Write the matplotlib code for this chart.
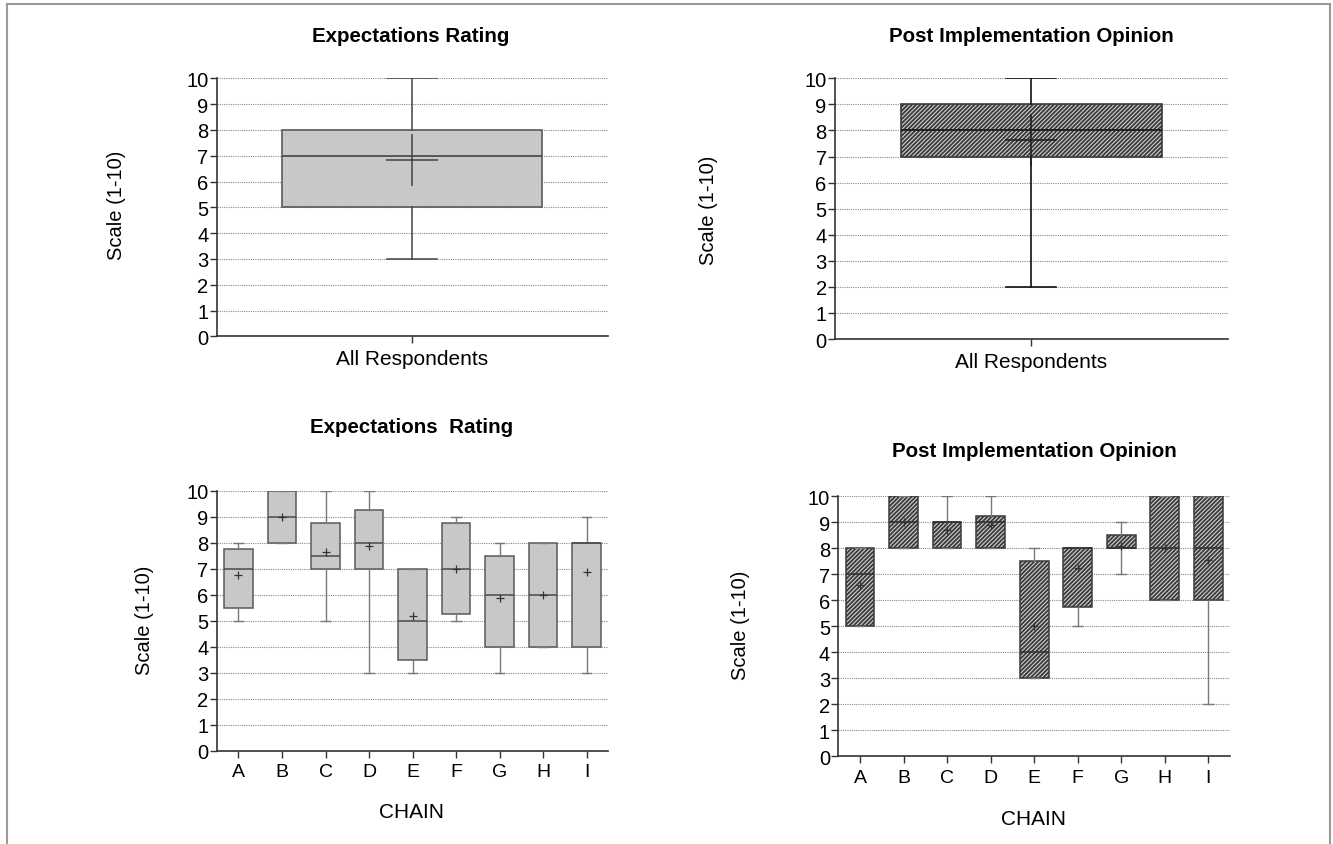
import matplotlib
matplotlib.use("Agg")
import matplotlib.pyplot as plt
from matplotlib.lines import Line2D

plt.rcParams['font.family'] = ['Liberation Sans', 'DejaVu Sans']
plt.rcParams['hatch.linewidth'] = 1.3

# ---------------- data ----------------
all_label = ["All Respondents"]
exp_all = dict(whislo=3, q1=5, med=7, q3=8, whishi=10, mean=6.85)
post_all = dict(whislo=2, q1=7, med=8, q3=9, whishi=10, mean=7.65)

chains = ["A", "B", "C", "D", "E", "F", "G", "H", "I"]
exp_whislo = [5, 8, 5, 3, 3, 5, 3, 4, 3]
exp_q1     = [5.5, 8, 7, 7, 3.5, 5.25, 4, 4, 4]
exp_med    = [7, 9, 7.5, 8, 5, 7, 6, 6, 8]
exp_q3     = [7.75, 10, 8.75, 9.25, 7, 8.75, 7.5, 8, 8]
exp_whishi = [8, 10, 10, 10, 7, 9, 8, 8, 9]
exp_mean   = [6.75, 9, 7.63, 7.88, 5.2, 7.0, 5.87, 6.0, 6.86]

post_whislo = [5, 8, 8, 8, 3, 5, 7, 6, 2]
post_q1     = [5, 8, 8, 8, 3, 5.75, 8, 6, 6]
post_med    = [7, 9, 9, 9, 4, 8, 8, 8, 8]
post_q3     = [8, 10, 9, 9.25, 7.5, 8, 8.5, 10, 10]
post_whishi = [8, 10, 10, 10, 8, 8, 9, 10, 10]
post_mean   = [6.6, 9, 8.72, 8.9, 5.0, 7.26, 8.1, 8.0, 7.56]

yticks = list(range(0, 11))

# ---------------- figure ----------------
W, H = 1333, 845
fig = plt.figure(figsize=(W / 100, H / 100), dpi=100)


def rect(left, right, top, bottom):
    return [left / W, 1 - bottom / H, (right - left) / W, (bottom - top) / H]


def style_axes(ax, tick_fs):
    ax.set_ylim(0, 10)
    ax.set_yticks(yticks)
    ax.yaxis.grid(True, linestyle=(0, (1, 1)), color='#8a8a8a', linewidth=0.8)
    ax.xaxis.grid(False)
    ax.set_axisbelow(True)
    for s in ['top', 'right']:
        ax.spines[s].set_visible(False)
    for s in ['left', 'bottom']:
        ax.spines[s].set_color('#333333')
        ax.spines[s].set_linewidth(1.2)
    ax.tick_params(axis='y', labelsize=14.5, length=5, width=1, color='#333333', pad=1)
    ax.tick_params(axis='x', labelsize=tick_fs, length=5, width=1, color='#333333', pad=4)


def stats_list(labels, wl, q1, med, q3, wh, mean):
    return [dict(label=l, whislo=a, q1=b, med=c, q3=d, whishi=e, mean=f, fliers=[])
            for l, a, b, c, d, e, f in zip(labels, wl, q1, med, q3, wh, mean)]


hatch_box = dict(facecolor='#cfcfcf', edgecolor='#3a3a3a', linewidth=1.2, hatch='////////')

# ---- top-left ----
ax1 = fig.add_axes(rect(216.7, 608, 79.3, 337.3))
st = [dict(label=all_label[0], fliers=[], **exp_all)]
ax1.bxp(st, positions=[0], widths=0.664, patch_artist=True, showmeans=True,
        boxprops=dict(facecolor='#c8c8c8', edgecolor='#5a5a5a', linewidth=1.2),
        medianprops=dict(color='#444444', linewidth=1.2),
        whiskerprops=dict(color='#444444', linewidth=1.1),
        capprops=dict(color='#444444', linewidth=1.1), capwidths=0.128,
        meanprops=dict(marker='+', markersize=37, markeredgecolor='#444444',
                       markeredgewidth=1.1))
ax1.set_xlim(-0.5, 0.5)
style_axes(ax1, 15)

# ---- top-right ----
ax2 = fig.add_axes(rect(835, 1227.7, 79.3, 340))
st = [dict(label=all_label[0], fliers=[], **post_all)]
ax2.bxp(st, positions=[0], widths=0.664, patch_artist=True, showmeans=True,
        boxprops=hatch_box,
        medianprops=dict(color='#222222', linewidth=1.4),
        whiskerprops=dict(color='#111111', linewidth=1.2),
        capprops=dict(color='#111111', linewidth=1.2), capwidths=0.128,
        meanprops=dict(marker='+', markersize=37, markeredgecolor='#222222',
                       markeredgewidth=1.2))
ax2.set_xlim(-0.5, 0.5)
style_axes(ax2, 15)

# ---- bottom-left ----
ax3 = fig.add_axes(rect(216.7, 608.4, 491.7, 751.7))
st = stats_list(chains, exp_whislo, exp_q1, exp_med, exp_q3, exp_whishi, exp_mean)
ax3.bxp(st, positions=list(range(len(chains))), widths=0.66, patch_artist=True,
        showmeans=True,
        boxprops=dict(facecolor='#c8c8c8', edgecolor='#5a5a5a', linewidth=1.1),
        medianprops=dict(color='#4a4a4a', linewidth=1.1),
        whiskerprops=dict(color='#7a7a7a', linewidth=1.0),
        capprops=dict(color='#7a7a7a', linewidth=1.0), capwidths=0.22,
        meanprops=dict(marker='+', markersize=5.5, markeredgecolor='#333333',
                       markeredgewidth=0.9))
ax3.set_xlim(-0.5, 8.5)
style_axes(ax3, 14)

# ---- bottom-right ----
ax4 = fig.add_axes(rect(838.3, 1230, 497.3, 757.3))
st = stats_list(chains, post_whislo, post_q1, post_med, post_q3, post_whishi, post_mean)
ax4.bxp(st, positions=list(range(len(chains))), widths=0.66, patch_artist=True,
        showmeans=True,
        boxprops=dict(hatch_box, linewidth=1.1),
        medianprops=dict(color='#333333', linewidth=1.2),
        whiskerprops=dict(color='#7a7a7a', linewidth=1.0),
        capprops=dict(color='#7a7a7a', linewidth=1.0), capwidths=0.22,
        meanprops=dict(marker='+', markersize=5.5, markeredgecolor='#333333',
                       markeredgewidth=0.9))
ax4.set_xlim(-0.5, 8.5)
style_axes(ax4, 14)


# ---------------- text ----------------
def ftext(x, y, s, **kw):
    fig.text(x / W, 1 - y / H, s, ha='center', va='center', **kw)


ftext(411, 37, "Expectations Rating", fontsize=14.8, fontweight='bold')
ftext(1031, 37, "Post Implementation Opinion", fontsize=14.8, fontweight='bold')
ftext(412, 428, "Expectations  Rating", fontsize=14.8, fontweight='bold')
ftext(1034, 452, "Post Implementation Opinion", fontsize=14.8, fontweight='bold')

ftext(117, 205, "Scale (1-10)", fontsize=14.5, rotation=90)
ftext(708, 210, "Scale (1-10)", fontsize=14.5, rotation=90)
ftext(145, 620, "Scale (1-10)", fontsize=14.5, rotation=90)
ftext(740, 625, "Scale (1-10)", fontsize=14.5, rotation=90)

ftext(412, 813, "CHAIN", fontsize=15)
ftext(1034, 820, "CHAIN", fontsize=15)

# outer frame
fc = '#9a9a9a'
fig.add_artist(Line2D([7 / W, 1330 / W], [1 - 5 / H, 1 - 5 / H], color=fc, lw=1.5))
fig.add_artist(Line2D([7 / W, 7 / W], [1 - 5 / H, 0], color=fc, lw=1.5))
fig.add_artist(Line2D([1330 / W, 1330 / W], [1 - 5 / H, 0], color=fc, lw=1.5))

fig.savefig("out.png", dpi=100)
